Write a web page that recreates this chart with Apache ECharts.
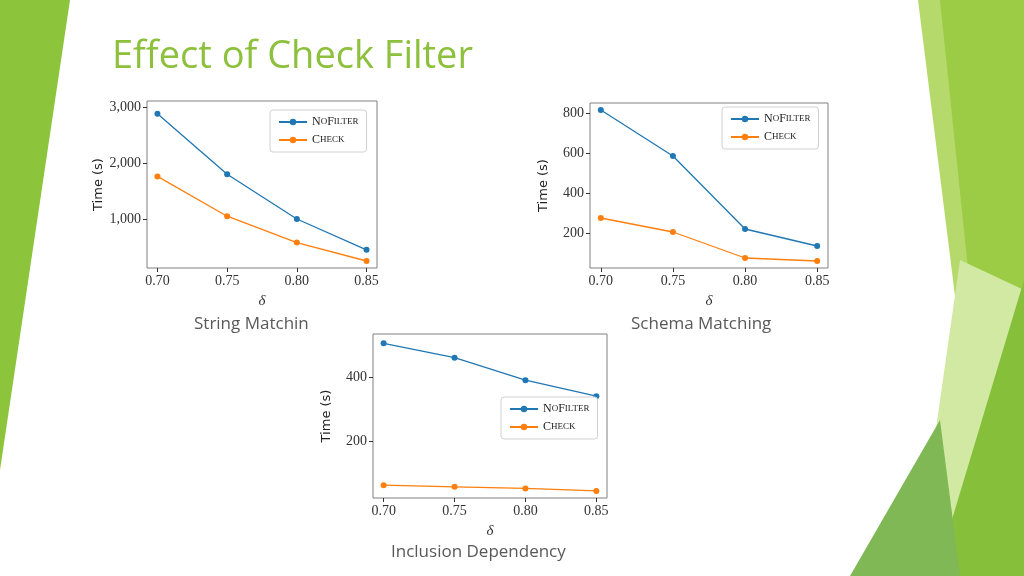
<!DOCTYPE html>
<html>
<head>
<meta charset="utf-8">
<script src="https://cdn.jsdelivr.net/npm/echarts@6/dist/echarts.min.js"></script>
<style>html,body{margin:0;padding:0;background:#fff}#main{width:1024px;height:576px}</style>
</head>
<body>
<div id="main"></div>
<script>
var deltas = [0.70, 0.75, 0.80, 0.85];
var xTicks = [0.70, 0.75, 0.80, 0.85];

var stringNoFilter = [2880, 1800, 1000, 450];
var stringCheck = [1760, 1050, 580, 250];
var stringTicks = [1000, 2000, 3000];

var schemaNoFilter = [815, 585, 220, 135];
var schemaCheck = [275, 205, 75, 60];
var schemaTicks = [200, 400, 600, 800];

var inclNoFilter = [505, 460, 390, 340];
var inclCheck = [62, 57, 52, 44];
var inclTicks = [200, 400];

var captions = ['String Matchin', 'Schema Matching', 'Inclusion Dependency'];

var blue = '#1f77b4', orange = '#ff7f0e';
var serif = 'Liberation Serif';

function pairs(ys) {
    return deltas.map(function (d, i) { return [d, ys[i]]; });
}

// grid boxes: left, top, width, height, ymin, ymax
var boxes = [
    [147, 101, 230, 167, 125, 3107, stringTicks],
    [590, 103, 238, 165, 25, 850, schemaTicks],
    [373, 334, 234, 164, 22, 534, inclTicks]
];
var legendPos = [[270, 110], [722, 107], [501, 397]];
var seriesData = [[stringNoFilter, stringCheck], [schemaNoFilter, schemaCheck], [inclNoFilter, inclCheck]];

var grids = [], xAxes = [], yAxes = [], series = [], legends = [];
boxes.forEach(function (b, i) {
    grids.push({left: b[0], top: b[1], width: b[2], height: b[3], show: true, borderColor: '#808080', borderWidth: 1});
    xAxes.push({
        type: 'value', gridIndex: i, min: 0.6925, max: 0.8575,
        name: 'δ', nameLocation: 'middle', nameGap: 26,
        nameTextStyle: {fontFamily: serif, fontStyle: 'italic', fontSize: 15, color: '#333'},
        axisLine: {show: false}, splitLine: {show: false},
        axisTick: {show: true, customValues: xTicks, length: 4, lineStyle: {color: '#333'}},
        axisLabel: {customValues: xTicks, fontFamily: serif, fontSize: 14, color: '#333', margin: 6,
            formatter: function (v) { return v.toFixed(2); }}
    });
    yAxes.push({
        type: 'value', gridIndex: i, min: b[4], max: b[5],
        name: 'Time (s)', nameLocation: 'middle', nameGap: 40,
        nameTextStyle: {fontFamily: 'DejaVu Sans', fontSize: 13, color: '#222'},
        axisLine: {show: false}, splitLine: {show: false},
        axisTick: {show: true, customValues: b[6], length: 4, lineStyle: {color: '#333'}},
        axisLabel: {customValues: b[6], fontFamily: serif, fontSize: 14, color: '#333', margin: 6}
    });
    var names = ['NoFilter', 'Check'];
    [blue, orange].forEach(function (c, k) {
        series.push({
            type: 'line', name: names[k], xAxisIndex: i, yAxisIndex: i,
            data: pairs(seriesData[i][k]), symbol: 'circle', symbolSize: 6,
            lineStyle: {color: c, width: 1.3}, itemStyle: {color: c}, animation: false
        });
    });
    legends.push({
        left: legendPos[i][0], top: legendPos[i][1], orient: 'vertical',
        data: names, itemWidth: 28, itemHeight: 8, itemGap: 6,
        padding: [6, 8], borderColor: '#d0d0d0', borderWidth: 1, borderRadius: 3, backgroundColor: '#fff',
        formatter: function (n) {
            return n === 'NoFilter' ? '{a|N}{b|O}{a|F}{b|ILTER}' : '{a|C}{b|HECK}';
        },
        textStyle: {rich: {
            a: {fontFamily: serif, fontSize: 12, color: '#222'},
            b: {fontFamily: serif, fontSize: 9, color: '#222'}
        }}
    });
});

var chart = echarts.init(document.getElementById('main'));
chart.setOption({
    backgroundColor: '#fff',
    animation: false,
    graphic: [
        {type: 'polygon', shape: {points: [[0, 0], [70, 0], [0, 470]]}, style: {fill: '#8cc43c'}},
        {type: 'polygon', shape: {points: [[918, 0], [1024, 0], [1024, 576], [990, 576]]}, style: {fill: '#b5d96a'}},
        {type: 'polygon', shape: {points: [[940, 0], [1024, 0], [1024, 576], [1000, 576]]}, style: {fill: '#9ccc46'}},
        {type: 'polygon', shape: {points: [[960, 260], [1024, 290], [1024, 576], [915, 576]]}, style: {fill: '#d2e9a3'}},
        {type: 'polygon', shape: {points: [[1024, 280], [1024, 576], [935, 576]]}, style: {fill: '#86c03a'}},
        {type: 'polygon', shape: {points: [[850, 576], [940, 420], [960, 576]]}, style: {fill: '#7fb855'}},
        {type: 'text', left: 112, top: 38, style: {text: 'Effect of Check Filter', fontFamily: 'Open Sans', fontSize: 38, fill: '#8dc03c'}},
        {type: 'text', left: 194, top: 316, style: {text: captions[0], fontFamily: 'Open Sans', fontSize: 17, fill: '#595959'}},
        {type: 'text', left: 631, top: 316, style: {text: captions[1], fontFamily: 'Open Sans', fontSize: 17, fill: '#595959'}},
        {type: 'text', left: 391, top: 544, style: {text: captions[2], fontFamily: 'Open Sans', fontSize: 17, fill: '#595959'}}
    ],
    grid: grids, xAxis: xAxes, yAxis: yAxes, legend: legends, series: series
});
</script>
</body>
</html>
